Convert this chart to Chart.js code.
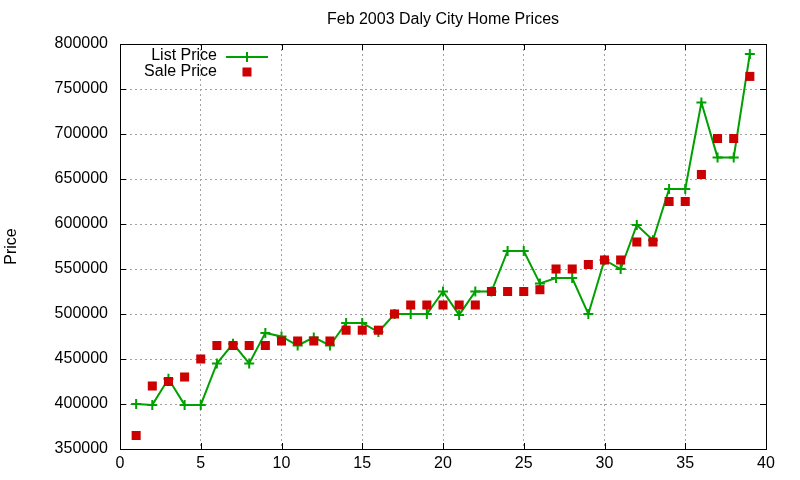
<!DOCTYPE html>
<html>
<head>
<meta charset="utf-8">
<title>Feb 2003 Daly City Home Prices</title>
<script src="https://cdn.jsdelivr.net/npm/chart.js@4.4.0/dist/chart.umd.min.js"></script>
<style>
  html, body { margin: 0; padding: 0; background: #fff; }
  #box { width: 800px; height: 480px; }
</style>
</head>
<body>
<div id="box"><canvas id="grafico"></canvas></div>
<script>
// numero do imovel (eixo x)
const imoveis = [1, 2, 3, 4, 5, 6, 7, 8, 9, 10, 11, 12, 13, 14, 15, 16, 17, 18, 19, 20,
  21, 22, 23, 24, 25, 26, 27, 28, 29, 30, 31, 32, 33, 34, 35, 36, 37, 38, 39];

// preco pedido
const precoLista = [400000, 399000, 428000, 399000, 399000, 445000, 467000, 445000, 479000, 475000,
  465000, 474000, 465000, 490000, 490000, 480000, 500000, 500000, 500000, 525000,
  499000, 525000, 525000, 570000, 570000, 534000, 540000, 540000, 500000, 560000,
  550000, 599000, 582000, 639000, 639000, 735000, 674000, 674000, 789000];

// preco de venda
const precoVenda = [365000, 420000, 425000, 430000, 450000, 465000, 465000, 465000, 465000, 470000,
  470000, 470000, 470000, 482000, 482000, 482000, 500000, 510000, 510000, 510000,
  510000, 510000, 525000, 525000, 525000, 527000, 550000, 550000, 555000, 560000,
  560000, 580000, 580000, 625000, 625000, 655000, 695000, 695000, 764000];

const ticksX = [0, 5, 10, 15, 20, 25, 30, 35, 40];
const ticksY = [350000, 400000, 450000, 500000, 550000, 600000, 650000, 700000, 750000, 800000];

const verde = "#00a000";
const vermelho = "#cc0000";
const fonte = "'Liberation Sans', Arial, sans-serif";

const pontos = (ys) => imoveis.map((x, i) => ({ x: x, y: ys[i] }));

// moldura com marcas para dentro (estilo gnuplot)
const moldura = {
  id: "moldura",
  afterDraw(chart) {
    const { ctx, chartArea: a, scales } = chart;
    const t = 6;
    ctx.save();
    ctx.strokeStyle = "#000";
    ctx.lineWidth = 1;
    ctx.beginPath();
    scales.x.ticks.forEach(tk => {
      const px = Math.round(scales.x.getPixelForValue(tk.value)) + 0.5;
      ctx.moveTo(px, a.bottom); ctx.lineTo(px, a.bottom - t);
      ctx.moveTo(px, a.top); ctx.lineTo(px, a.top + t);
    });
    scales.y.ticks.forEach(tk => {
      const py = Math.round(scales.y.getPixelForValue(tk.value)) + 0.5;
      ctx.moveTo(a.left, py); ctx.lineTo(a.left + t, py);
      ctx.moveTo(a.right, py); ctx.lineTo(a.right - t, py);
    });
    ctx.stroke();
    ctx.strokeRect(Math.round(a.left) + 0.5, Math.round(a.top) + 0.5,
      Math.round(a.right - a.left), Math.round(a.bottom - a.top));
    ctx.restore();
  }
};

// legenda dentro do grafico, texto alinhado a direita
const legenda = {
  id: "legenda",
  afterDraw(chart) {
    const { ctx } = chart;
    const ds = chart.data.datasets;
    const xTexto = 217, xAmostra = 226, larg = 42;
    ctx.save();
    ctx.font = "16px " + fonte;
    ctx.fillStyle = "#000";
    ctx.textAlign = "right";
    ctx.textBaseline = "middle";
    ds.forEach((d, i) => {
      const y = 56 + i * 16;
      ctx.fillText(d.label, xTexto, y);
      const cx = xAmostra + larg / 2;
      if (d.showLine !== false) {
        ctx.strokeStyle = d.borderColor;
        ctx.lineWidth = 2;
        ctx.beginPath();
        ctx.moveTo(xAmostra, y + 1); ctx.lineTo(xAmostra + larg, y + 1);
        ctx.moveTo(cx, y + 1 - 5); ctx.lineTo(cx, y + 1 + 5);
        ctx.stroke();
      } else {
        ctx.fillStyle = d.backgroundColor;
        ctx.fillRect(cx - 4.5, y - 4.5, 9, 9);
        ctx.fillStyle = "#000";
      }
    });
    ctx.restore();
  }
};

new Chart(document.getElementById("grafico"), {
  type: "line",
  data: {
    datasets: [{
      label: "List Price",
      data: pontos(precoLista),
      borderColor: verde,
      backgroundColor: verde,
      borderWidth: 2,
      pointStyle: "cross",
      pointRadius: 5,
      pointBorderWidth: 2,
      pointHoverRadius: 5,
      tension: 0,
      order: 1
    }, {
      label: "Sale Price",
      data: pontos(precoVenda),
      showLine: false,
      borderColor: vermelho,
      backgroundColor: vermelho,
      borderWidth: 0,
      pointStyle: "rect",
      pointRadius: 6.4,
      pointBorderWidth: 0,
      pointHoverRadius: 6.4,
      order: 0
    }]
  },
  options: {
    responsive: true,
    maintainAspectRatio: false,
    animation: false,
    devicePixelRatio: 1,
    layout: { padding: { top: 0, right: 34, bottom: 0, left: 0 } },
    plugins: {
      legend: { display: false },
      tooltip: { enabled: false },
      title: {
        display: true,
        text: "Feb 2003 Daly City Home Prices",
        fullSize: false,
        color: "#000",
        font: { family: fonte, size: 16, weight: "normal", lineHeight: 1.125 },
        padding: { top: 11, bottom: 15 }
      }
    },
    scales: {
      x: {
        type: "linear",
        min: 0,
        max: 40,
        afterBuildTicks: (s) => { s.ticks = ticksX.map(v => ({ value: v })); },
        afterFit: (s) => { s.height = 31; },
        grid: { color: "#a0a0a0", drawTicks: false, lineWidth: 1 },
        border: { display: false, dash: [2, 3] },
        ticks: { color: "#000", padding: 5, font: { family: fonte, size: 16 },
          callback: (v) => String(v) }
      },
      y: {
        type: "linear",
        min: 350000,
        max: 800000,
        afterBuildTicks: (s) => { s.ticks = ticksY.map(v => ({ value: v })); },
        afterFit: (s) => { s.width = 120; },
        grid: { color: "#a0a0a0", drawTicks: false, lineWidth: 1 },
        border: { display: false, dash: [2, 3] },
        title: {
          display: true,
          text: "Price",
          color: "#000",
          font: { family: fonte, size: 16 },
          padding: { top: 2, bottom: 0 }
        },
        ticks: { color: "#000", padding: 12, font: { family: fonte, size: 16 },
          callback: (v) => String(v) }
      }
    }
  },
  plugins: [moldura, legenda]
});
</script>
</body>
</html>
